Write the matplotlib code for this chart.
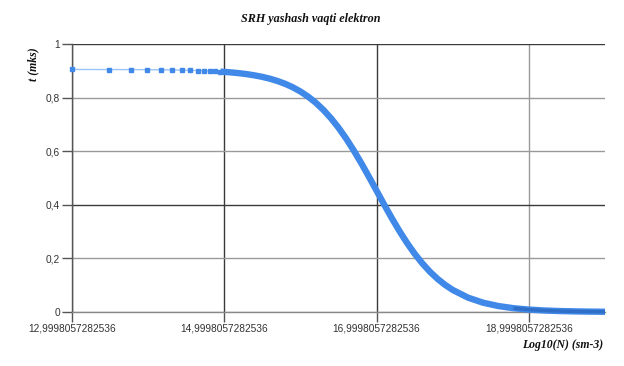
import matplotlib
matplotlib.use("Agg")
import matplotlib.pyplot as plt
from matplotlib.ticker import FixedLocator, FuncFormatter

# Sparse points at the start (log10 N) and their lifetimes (mks)
x_sparse = [13.0, 13.48, 13.77, 13.99, 14.17, 14.31, 14.44, 14.55, 14.65,
            14.73, 14.81, 14.88, 14.95]
y_sparse = [0.905, 0.9047, 0.9045, 0.9041, 0.9037, 0.9032, 0.9025, 0.9018,
            0.9010, 0.9002, 0.8992, 0.8982, 0.8970]

# Dense part of the curve
x_dense = [14.95, 15.0, 15.1, 15.2, 15.3, 15.4, 15.5, 15.6, 15.7, 15.8, 15.9,
           16.0, 16.1, 16.2, 16.3, 16.4, 16.5, 16.6, 16.7, 16.8, 16.9,
           17.0, 17.1, 17.2, 17.3, 17.4, 17.5, 17.6, 17.7, 17.8, 17.9,
           18.0, 18.2, 18.4, 18.6, 18.8, 19.0, 19.2, 19.4, 19.6, 19.8, 20.0]
y_dense = [0.8970, 0.8960, 0.8937, 0.8909, 0.8873, 0.8828, 0.8773, 0.8704,
           0.8618, 0.8513, 0.8384, 0.8227, 0.8038, 0.7812, 0.7545, 0.7233,
           0.6876, 0.6473, 0.6028, 0.5549, 0.5043, 0.4525, 0.4006, 0.3501,
           0.3022, 0.2577, 0.2174, 0.1817, 0.1505, 0.1238, 0.1012, 0.0823,
           0.0537, 0.0346, 0.0222, 0.0141, 0.0090, 0.0057, 0.0036, 0.0023,
           0.0014, 0.0009]

x_min = 12.9998057282536
x_ticks = [x_min, x_min + 2, x_min + 4, x_min + 6]
y_ticks = [0, 0.2, 0.4, 0.6, 0.8, 1.0]

title = "SRH yashash vaqti elektron"
xlabel = "Log10(N) (sm-3)"
ylabel = "t (mks)"

blue = "#4189E8"

fig = plt.figure(figsize=(6.24, 3.66), dpi=100)
ax = fig.add_axes([72 / 624, 1 - 312 / 366, (605 - 72) / 624, (312 - 44) / 366])

ax.plot(x_sparse, y_sparse, color="#9CC3F5", lw=1.0, zorder=3, clip_on=False)
ax.plot(x_sparse, y_sparse, linestyle="none", marker="s", ms=3.3,
        color=blue, zorder=4, clip_on=False)
ax.plot(x_dense, y_dense, color=blue, lw=4.6, solid_capstyle="butt", zorder=4,
        clip_on=False)
# darker overlap near the end
tail_x = [x for x in x_dense if x >= 18.8]
tail_y = [y for x, y in zip(x_dense, y_dense) if x >= 18.8]
ax.plot(tail_x, tail_y, color="#2F6FC8", lw=2.5, solid_capstyle="butt",
        zorder=5, clip_on=False)

ax.set_xlim(x_min, 20.0)
ax.set_ylim(0, 1)

ax.xaxis.set_major_locator(FixedLocator(x_ticks))
ax.yaxis.set_major_locator(FixedLocator(y_ticks))
ax.xaxis.set_major_formatter(FuncFormatter(lambda v, p: f"{v:.13f}".replace(".", ",")))

def yfmt(v, p):
    if abs(v) < 1e-9:
        return "0"
    if abs(v - 1) < 1e-9:
        return "1"
    return f"{v:.1f}".replace(".", ",")
ax.yaxis.set_major_formatter(FuncFormatter(yfmt))

ax.grid(True, lw=1.0)
ycols = ["#999999", "#9a9a9a", "#3a3a3a", "#9a9a9a", "#9a9a9a", "#3a3a3a"]
for gl, c in zip(ax.get_ygridlines(), ycols):
    gl.set_color(c)
xcols = ["#3a3a3a", "#3a3a3a", "#3a3a3a", "#9a9a9a"]
for gl, c in zip(ax.get_xgridlines(), xcols):
    gl.set_color(c)
ax.set_axisbelow(True)

for s in ["top", "right"]:
    ax.spines[s].set_visible(False)
ax.spines["left"].set_color("#555555")
ax.spines["bottom"].set_color("#888888")
ax.spines["left"].set_linewidth(1.0)
ax.spines["bottom"].set_linewidth(1.0)

ax.tick_params(axis="both", length=7, width=1, color="#555555",
               labelsize=7.3, labelcolor="#333333", pad=1.5)
for lab in ax.get_xticklabels() + ax.get_yticklabels():
    lab.set_family("Liberation Sans")

serif = dict(family="Liberation Serif", weight="bold", style="italic")
fig.text(311 / 624, 1 - 19 / 366, title, ha="center", va="center",
         fontsize=8.7, color="#111111", **serif)
fig.text(603 / 624, 1 - 345 / 366, xlabel, ha="right", va="center",
         fontsize=8.5, color="#111111", **serif)
fig.text(33 / 624, 1 - 64 / 366, ylabel, ha="center", va="center",
         rotation=90, fontsize=8.5, color="#111111", **serif)

fig.savefig("out.png", dpi=100)
